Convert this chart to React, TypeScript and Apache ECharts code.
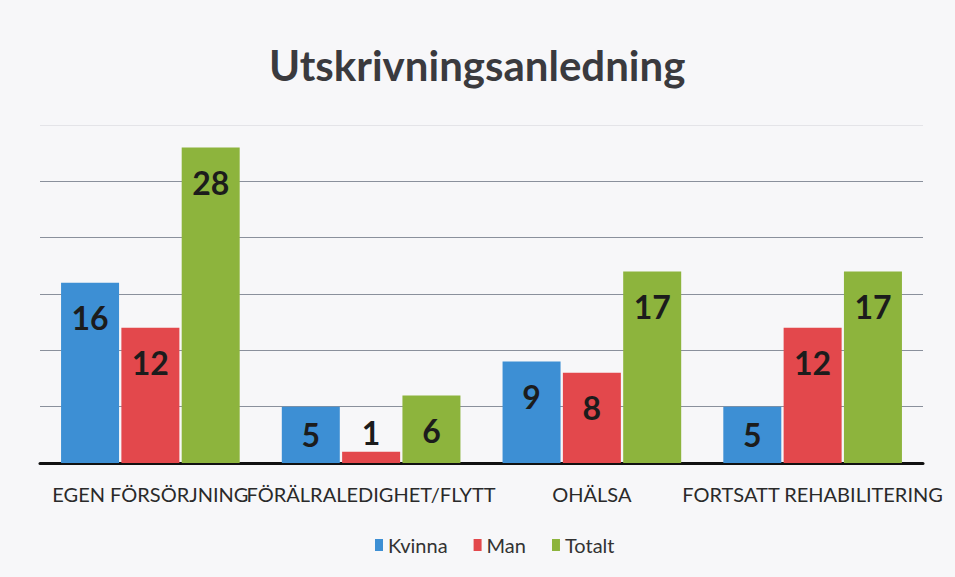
import React, { useEffect, useRef } from "react";
import * as echarts from "echarts";

const titleText = "Utskrivningsanledning";
const categories = ["EGEN FÖRSÖRJNING", "FÖRÄLRALEDIGHET/FLYTT", "OHÄLSA", "FORTSATT REHABILITERING"];
const seriesNames = ["Kvinna", "Man", "Totalt"];
const kvinna = [16, 5, 9, 5];
const man = [12, 1, 8, 12];
const totalt = [28, 6, 17, 17];
const colors = ["#3d8fd4", "#e3484c", "#8db43d"];
const axisMax = 30;

function labelFor(v: number) {
  if (v <= 1) return { position: "top", distance: 3 };
  if (v <= 5) return { position: "inside" };
  return { position: "insideTop", distance: 19 };
}

export default function App() {
  const ref = useRef<HTMLDivElement>(null);
  useEffect(() => {
    if (!ref.current) return;
    const chart = echarts.init(ref.current, null, { renderer: "svg" });
    const data = [kvinna, man, totalt];
    chart.setOption({
      animation: false,
      backgroundColor: "#f7f7f9",
      title: {
        text: titleText,
        left: 264,
        top: 39,
        textStyle: { fontFamily: "Lato", fontWeight: "bold", fontSize: 42, color: "#3a3a3e" },
      },
      legend: {
        bottom: 17,
        left: 370,
        itemWidth: 8,
        itemHeight: 12,
        itemGap: 26,
        icon: "rect",
        textStyle: { fontFamily: "Lato", fontSize: 20, color: "#333" },
        data: seriesNames,
      },
      grid: { left: 40, right: 32, top: 125, bottom: 114 },
      xAxis: {
        type: "category",
        data: categories,
        axisTick: { show: false },
        axisLine: { lineStyle: { color: "#111", width: 3 } },
        axisLabel: {
          interval: 0,
          hideOverlap: false,
          margin: 21,
          fontFamily: "Lato",
          fontSize: 20,
          color: "#2a2a2a",
        },
      },
      yAxis: {
        type: "value",
        min: 0,
        max: axisMax,
        interval: 5,
        axisLabel: { show: false },
        axisLine: { show: false },
        axisTick: { show: false },
        splitLine: { showMaxLine: false, lineStyle: { color: "#8a909c", width: 1 } },
      },
      series: seriesNames.map((name, i) => ({
        name,
        type: "bar",
        barWidth: 58,
        barGap: "4%",
        itemStyle: { color: colors[i] },
        label: {
          show: true,
          fontFamily: "Lato",
          fontWeight: "bold",
          fontSize: 32,
          color: "#1c1c1c",
        },
        markLine:
          i === 0
            ? {
                silent: true,
                symbol: "none",
                label: { show: false },
                lineStyle: { color: "#e4e4e8", type: "solid", width: 1 },
                data: [{ yAxis: axisMax }],
              }
            : undefined,
        data: data[i].map((v) => ({ value: v, label: labelFor(v) })),
      })),
    });
    return () => chart.dispose();
  }, []);
  return <div ref={ref} style={{ width: 955, height: 577, position: "absolute", left: 0, top: 0 }} />;
}
